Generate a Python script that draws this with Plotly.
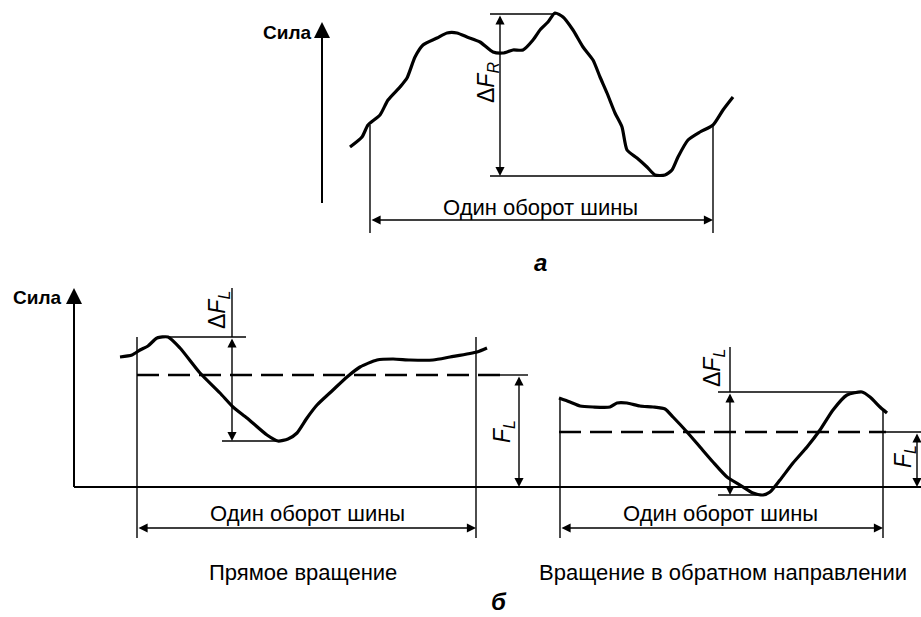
import plotly.graph_objects as go

W, H = 921, 617

# ---- curves (picture coordinates: x to the right, y downward) ----
top_x = [350, 362, 368, 380, 388, 400, 407, 415, 423, 437, 447, 457, 467, 480, 493, 503, 513, 523,
         533, 540, 548, 555, 563, 573, 583, 593, 600, 607, 615, 622, 627, 637, 647, 655, 665, 672,
         678, 688, 700, 713, 723, 733]
top_y = [147, 137, 125, 115, 100, 87, 78, 57, 45, 38, 33, 33, 37, 42, 52, 53, 50, 50,
         40, 30, 22, 13, 17, 30, 47, 60, 77, 93, 113, 127, 150, 158, 167, 175, 175, 170,
         157, 140, 132, 125, 110, 97]

left_x = [120, 132, 140, 148, 157, 168, 180, 200, 220, 233, 247, 267, 278, 288, 297, 307, 317,
          333, 347, 360, 377, 393, 410, 433, 450, 477, 487]
left_y = [357, 355, 350, 346, 338, 337, 348, 373, 393, 407, 418, 435, 441, 439, 433, 418, 405,
          390, 377, 367, 360, 359, 360, 360, 357, 352, 348]

right_x = [559, 570, 580, 593, 610, 617, 627, 640, 653, 665, 673, 687, 700, 713, 727, 740, 753,
           763, 770, 780, 793, 807, 820, 833, 847, 862, 870, 880, 887]
right_y = [398, 402, 406, 407, 407, 403, 403, 406, 407, 409, 417, 432, 447, 462, 477, 485, 493,
           495, 492, 480, 463, 447, 430, 410, 395, 392, 397, 407, 413]

# ---- reference levels ----
left_mean = 375
right_mean = 432
baseline = 487

# ---- texts ----
label_force = "Сила"
label_rev = "Один оборот шины"
label_a = "а"
label_b = "б"
label_fwd = "Прямое вращение"
label_back = "Вращение в обратном направлении"

fig = go.Figure()

for xs, ys in [(top_x, top_y), (left_x, left_y), (right_x, right_y)]:
    fig.add_trace(go.Scatter(x=xs, y=ys, mode="lines",
                             line=dict(color="black", width=3.2, shape="spline", smoothing=0.6),
                             hoverinfo="skip", showlegend=False))

# dashed mean lines
fig.add_trace(go.Scatter(x=[137, 500], y=[left_mean, left_mean], mode="lines",
                         line=dict(color="black", width=2.5, dash="22px,9px"),
                         hoverinfo="skip", showlegend=False))
fig.add_trace(go.Scatter(x=[559, 886], y=[right_mean, right_mean], mode="lines",
                         line=dict(color="black", width=2.5, dash="22px,9px"),
                         hoverinfo="skip", showlegend=False))

thin = dict(color="black", width=1.4)
thick = dict(color="black", width=2)
segments = [
    # top panel
    ((322, 40), (322, 203), thick),
    ((370, 125), (370, 233), thin),
    ((713, 125), (713, 233), thin),
    ((490, 14), (556, 14), thin),
    ((490, 176), (660, 176), thin),
    # bottom-left panel
    ((74, 300), (74, baseline), thick),
    ((74, baseline), (921, baseline), thick),
    ((137, 337), (137, 538), thin),
    ((476, 337), (476, 538), thin),
    ((157, 337), (246, 337), thin),
    ((222, 441), (282, 441), thin),
    ((232, 288), (232, 337), thin),
    ((497, left_mean), (528, left_mean), thin),
    # bottom-right panel
    ((560, 398), (560, 538), thin),
    ((883, 411), (883, 538), thin),
    ((718, 392), (864, 392), thin),
    ((718, 495), (766, 495), thin),
    ((730, 347), (730, 392), thin),
    ((883, right_mean), (921, right_mean), thin),
]
for (x0, y0), (x1, y1), ln in segments:
    fig.add_shape(type="line", x0=x0, y0=y0, x1=x1, y1=y1, xref="x", yref="y", line=ln)

anns = []


def dbl_arrow(x0, y0, x1, y1):
    anns.append(dict(x=x1, y=y1, ax=x0, ay=y0, xref="x", yref="y", axref="x", ayref="y",
                     text="", showarrow=True, arrowhead=2, startarrowhead=2,
                     arrowside="end+start", arrowsize=1.3, startarrowsize=1.3,
                     arrowwidth=1.4, arrowcolor="black", standoff=0, startstandoff=0))


def axis_arrow(x, y0, y1):
    anns.append(dict(x=x, y=y1, ax=x, ay=y0, xref="x", yref="y", axref="x", ayref="y",
                     text="", showarrow=True, arrowhead=2, arrowsize=1.6,
                     arrowwidth=2, arrowcolor="black", standoff=0))


axis_arrow(322, 60, 22)
axis_arrow(74, 320, 288)

dbl_arrow(370, 220, 713, 220)
dbl_arrow(500, 14, 500, 176)
dbl_arrow(137, 528, 476, 528)
dbl_arrow(232, 337, 232, 441)
dbl_arrow(519, left_mean, 519, baseline)
dbl_arrow(560, 528, 883, 528)
dbl_arrow(730, 392, 730, 495)
dbl_arrow(917, right_mean, 917, baseline)

F = "Liberation Sans, Arial, sans-serif"


def txt(x, y, s, size=22, angle=0, bold=False, italic=False):
    if bold:
        s = "<b>" + s + "</b>"
    if italic:
        s = "<i>" + s + "</i>"
    anns.append(dict(x=x, y=y, xref="x", yref="y", text=s, showarrow=False,
                     textangle=angle, font=dict(family=F, size=size, color="black"),
                     xanchor="center", yanchor="middle"))


txt(287, 32, label_force, size=19, bold=True)
txt(37, 297, label_force, size=19, bold=True)
txt(540, 207, label_rev)
txt(307, 513, label_rev)
txt(720, 513, label_rev)
txt(303, 572, label_fwd)
txt(723, 572, label_back)
txt(540, 262, label_a, size=24, bold=True, italic=True)
txt(499, 601, label_b, size=24, bold=True, italic=True)

txt(487, 83, "Δ<i>F</i><sub><i>R</i></sub>", size=23, angle=-90)
txt(218, 310, "Δ<i>F</i><sub><i>L</i></sub>", size=23, angle=-90)
txt(713, 368, "Δ<i>F</i><sub><i>L</i></sub>", size=23, angle=-90)
txt(503, 432, "<i>F</i><sub><i>L</i></sub>", size=23, angle=-90)
txt(904, 457, "<i>F</i><sub><i>L</i></sub>", size=23, angle=-90)

fig.update_layout(
    width=W, height=H,
    margin=dict(l=0, r=0, t=0, b=0),
    paper_bgcolor="white", plot_bgcolor="white",
    xaxis=dict(range=[0, W], visible=False, fixedrange=True),
    yaxis=dict(range=[H, 0], visible=False, fixedrange=True),
    annotations=anns,
    showlegend=False,
)

fig.write_html("out.html", config={"displayModeBar": False},
               post_script="document.body.style.margin='0';document.body.style.overflow='hidden';")
